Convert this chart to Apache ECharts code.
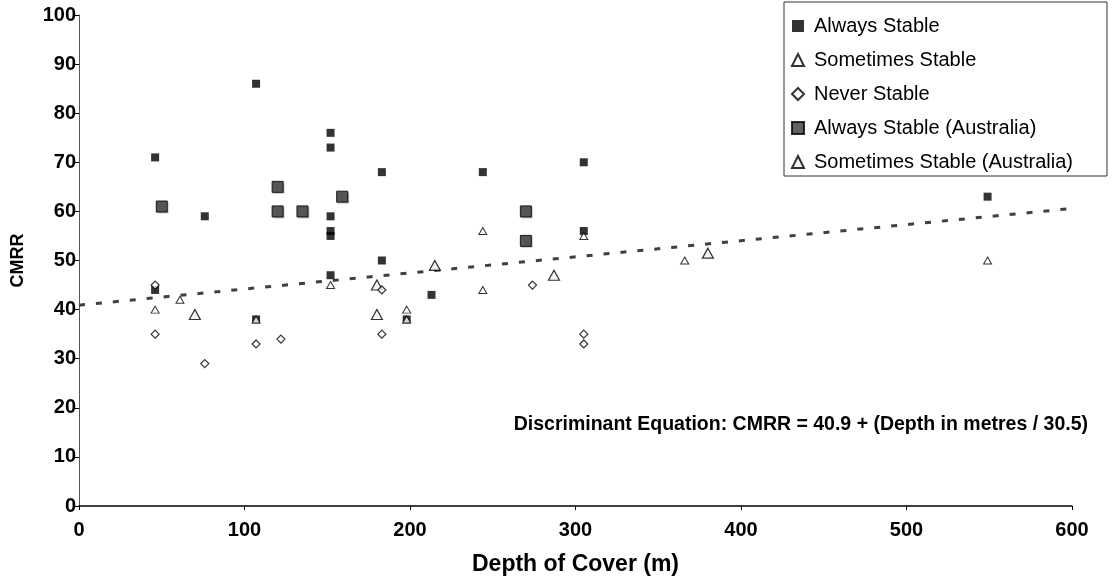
<!DOCTYPE html>
<html>
<head>
<meta charset="utf-8">
<title>CMRR vs Depth of Cover</title>
<script src="https://cdn.jsdelivr.net/npm/echarts@6/dist/echarts.min.js"></script>
<style>
	html, body { margin: 0; padding: 0; background: #fff; }
	#chart { width: 1118px; height: 582px; }
</style>
</head>
<body>
<div id="chart"></div>
<script>
	// depth of cover (m) / CMRR pairs
	var alwaysStable = [
		[46, 71], [46, 44], [76, 59], [107, 86], [107, 38],
		[152, 76], [152, 73], [152, 59], [152, 56], [152, 55], [152, 47],
		[183, 68], [183, 50], [198, 38], [213, 43],
		[244, 68], [305, 70], [305, 56], [549, 63]
	];
	var sometimesStable = [
		[46, 40], [61, 42], [107, 38], [152, 45], [198, 40], [198, 38],
		[244, 56], [244, 44], [305, 55], [366, 50], [549, 50]
	];
	var neverStable = [
		[46, 45], [46, 35], [76, 29], [107, 33], [122, 34],
		[183, 44], [183, 35], [274, 45], [305, 35], [305, 33]
	];
	var alwaysStableAus = [
		[50, 61], [120, 65], [120, 60], [135, 60], [159, 63], [270, 60], [270, 54]
	];
	var sometimesStableAus = [
		[70, 39], [180, 45], [180, 39], [215, 49], [287, 47], [380, 51.5]
	];
	// discriminant line end points
	var lineX = [0, 600];
	var lineY = [40.9, 60.6];

	var chart = echarts.init(document.getElementById('chart'));
	var fontBold = { fontFamily: 'Liberation Sans', fontWeight: 'bold', color: '#000' };

	var option = {
		animation: false,
		backgroundColor: '#fff',
		grid: { left: 79, right: 46, top: 15, bottom: 76 },
		legend: {
			orient: 'vertical',
			left: 784,
			top: 2,
			padding: [14, 34, 4, 7],
			itemGap: 14,
			itemWidth: 12,
			itemHeight: 12,
			borderColor: '#333',
			borderWidth: 1,
			borderRadius: 0,
			backgroundColor: '#fff',
			textStyle: { fontFamily: 'Liberation Sans', fontSize: 20, lineHeight: 20, color: '#000', padding: [0, 0, 0, 5] },
			data: ['Always Stable', 'Sometimes Stable', 'Never Stable', 'Always Stable (Australia)', 'Sometimes Stable (Australia)']
		},
		xAxis: {
			type: 'value',
			min: 0,
			max: 600,
			interval: 100,
			name: 'Depth of Cover (m)',
			nameLocation: 'middle',
			nameGap: 47,
			nameTextStyle: Object.assign({ fontSize: 23 }, fontBold),
			axisLine: { show: true, lineStyle: { color: '#000', width: 1.5 } },
			axisTick: { show: true, length: 4, lineStyle: { color: '#000' } },
			axisLabel: Object.assign({ fontSize: 20, margin: 14 }, fontBold),
			splitLine: { show: false }
		},
		yAxis: {
			type: 'value',
			min: 0,
			max: 100,
			interval: 10,
			name: 'CMRR',
			nameLocation: 'middle',
			nameGap: 52,
			nameTextStyle: Object.assign({ fontSize: 18 }, fontBold),
			axisLine: { show: true, lineStyle: { color: '#555', width: 1 } },
			axisTick: { show: true, length: 4, lineStyle: { color: '#000' } },
			axisLabel: Object.assign({ fontSize: 20, margin: 3, padding: [4, 0, 0, 0] }, fontBold),
			splitLine: { show: false }
		},
		graphic: [{
			type: 'text',
			right: 30,
			top: 415,
			style: {
				text: 'Discriminant Equation: CMRR = 40.9 + (Depth in metres / 30.5)',
				font: 'bold 19.5px "Liberation Sans"',
				fill: '#000'
			}
		}],
		series: [
			{
				name: 'Discriminant',
				type: 'line',
				data: lineX.map(function (x, i) { return [x, lineY[i]]; }),
				symbol: 'none',
				z: 1,
				lineStyle: { color: '#404040', width: 3, type: [6, 11] }
			},
			{
				name: 'Always Stable (Australia)',
				type: 'scatter',
				data: alwaysStableAus,
				symbol: 'rect',
				symbolSize: 11,
				z: 2,
				itemStyle: { color: '#3a3a3a', borderColor: '#000', borderWidth: 1, shadowColor: 'rgba(0,0,0,0.3)', shadowBlur: 1, shadowOffsetX: 1, shadowOffsetY: 1 }
			},
			{
				name: 'Always Stable',
				type: 'scatter',
				data: alwaysStable,
				symbol: 'rect',
				symbolSize: 8,
				z: 3,
				itemStyle: { color: '#000' }
			},
			{
				name: 'Sometimes Stable',
				type: 'scatter',
				data: sometimesStable,
				symbol: 'triangle',
				symbolSize: [8, 7],
				z: 4,
				itemStyle: { color: '#fff', borderColor: '#000', borderWidth: 1 }
			},
			{
				name: 'Sometimes Stable (Australia)',
				type: 'scatter',
				data: sometimesStableAus,
				symbol: 'triangle',
				symbolSize: [11, 10],
				z: 4,
				itemStyle: { color: '#f0f0f0', borderColor: '#000', borderWidth: 1.2 }
			},
			{
				name: 'Never Stable',
				type: 'scatter',
				data: neverStable,
				symbol: 'diamond',
				symbolSize: 8,
				z: 5,
				itemStyle: { color: '#fff', borderColor: '#000', borderWidth: 1.2 }
			}
		]
	};
	chart.setOption(option);
</script>
</body>
</html>
